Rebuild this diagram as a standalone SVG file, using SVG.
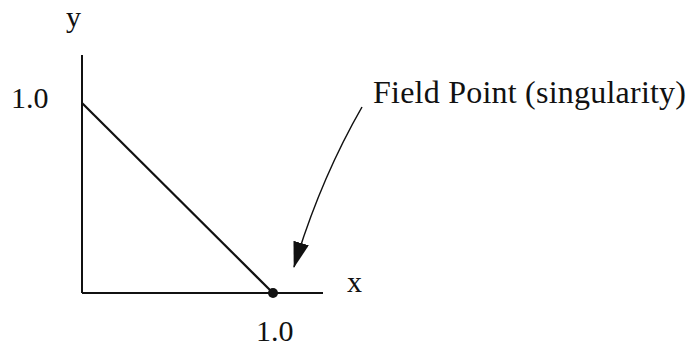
<svg xmlns="http://www.w3.org/2000/svg" width="689" height="346" viewBox="0 0 689 346">
<style>
.t{font-family:"Liberation Serif","Times New Roman",serif;fill:#111}
.ln{stroke:#111;fill:none}
</style>
<defs>
<marker id="ah" markerWidth="26" markerHeight="16" refX="25" refY="8" orient="auto" markerUnits="userSpaceOnUse" viewBox="0 0 26 16">
<path d="M0,0 L26,8 L0,16 z" fill="#111"/>
</marker>
</defs>
<rect width="689" height="346" fill="#fff"/>
<g id="axes">
<line class="ln" x1="82" y1="55" x2="82" y2="293" stroke-width="2"/>
<line class="ln" x1="82" y1="293" x2="323" y2="293" stroke-width="2"/>
</g>
<g id="triangle">
<line class="ln" x1="82" y1="103" x2="273" y2="293" stroke-width="2.2"/>
<circle cx="273" cy="293" r="5" fill="#111"/>
</g>
<g id="labels">
<text class="t" x="66" y="27" font-size="30">y</text>
<text class="t" x="11" y="108" font-size="30">1.0</text>
<text class="t" x="256" y="341" font-size="30">1.0</text>
<text class="t" x="347" y="292" font-size="30">x</text>
</g>
<g id="field-point">
<text class="t" x="373" y="103" font-size="32" textLength="313">Field Point (singularity)</text>
</g>
<g id="connectors">
<path class="ln" d="M362,107 Q320,180 294,267" stroke-width="1.5" marker-end="url(#ah)"/>
</g>
</svg>
